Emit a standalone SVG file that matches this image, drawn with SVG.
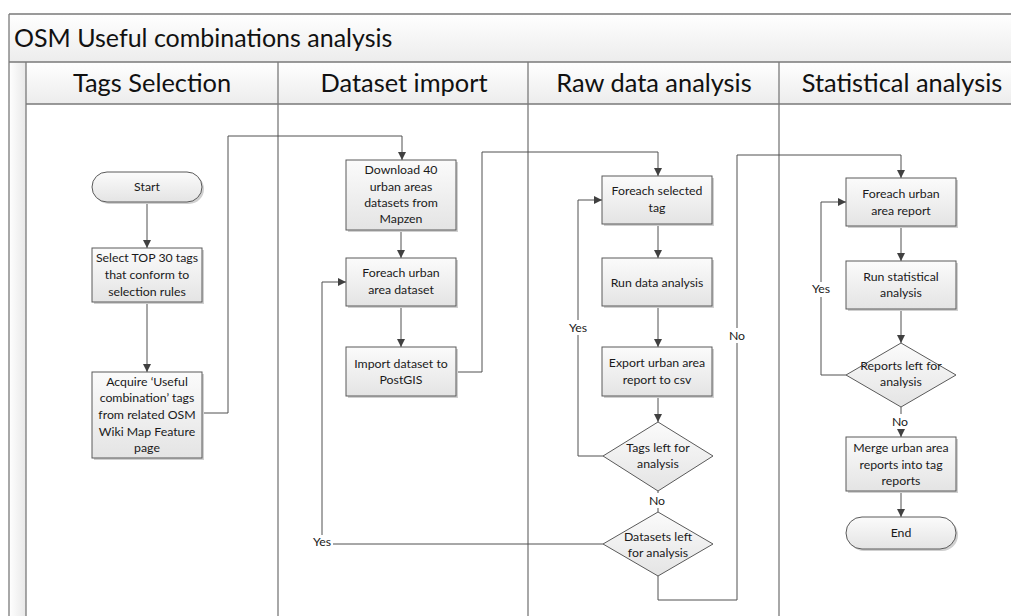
<svg xmlns="http://www.w3.org/2000/svg" width="1011" height="616" viewBox="0 0 1011 616">
<defs>
<linearGradient id="gBox" x1="0" y1="0" x2="0" y2="1">
<stop offset="0" stop-color="#fbfbfb"/>
<stop offset="1" stop-color="#e4e4e4"/>
</linearGradient>
<linearGradient id="gBar" x1="0" y1="0" x2="0" y2="1">
<stop offset="0" stop-color="#ffffff"/>
<stop offset="1" stop-color="#ececec"/>
</linearGradient>
<linearGradient id="gStrip" x1="0" y1="0" x2="1" y2="0">
<stop offset="0" stop-color="#ffffff"/>
<stop offset="1" stop-color="#e8e8e8"/>
</linearGradient>
<marker id="arr" viewBox="0 0 10 10" refX="10" refY="5" markerWidth="8" markerHeight="8" markerUnits="userSpaceOnUse" orient="auto">
<path d="M0,0 L10,5 L0,10 z" fill="#404040"/>
</marker>
</defs>
<style>
.frame{fill:none;stroke:#7a7a7a;stroke-width:1.3}
.box{fill:url(#gBox);stroke:#5a5a5a;stroke-width:1}
.shadow{fill:#d0d0d0}
.t{font-family:Lato,"Liberation Sans",sans-serif;font-size:12.3px;fill:#1a1a1a;text-anchor:middle}
.h{font-family:Lato,"Liberation Sans",sans-serif;font-size:25.4px;fill:#111;text-anchor:middle}
.title{font-family:Lato,"Liberation Sans",sans-serif;font-size:25px;fill:#111}
.c{fill:none;stroke:#505050;stroke-width:1}
.lbl{fill:#fff}
</style>
<rect width="1011" height="616" fill="#fff"/>
<g id="pool">
<rect x="9" y="14" width="1010" height="48" fill="url(#gBar)"/>
<rect x="26" y="62" width="990" height="42" fill="url(#gBar)"/>
<rect x="9" y="62" width="17" height="560" fill="url(#gStrip)"/>
<path class="frame" d="M9,14 H1015 M9,14 V620 M9,62 H1015 M26,62 V620 M26,104 H1015 M278,62 V620 M528,62 V620 M779,62 V620"/>
<text class="title" x="14" y="47">OSM Useful combinations analysis</text>
<text class="h" x="152" y="92">Tags Selection</text>
<text class="h" x="404" y="92">Dataset import</text>
<text class="h" x="654" y="92">Raw data analysis</text>
<text class="h" x="902" y="92">Statistical analysis</text>
</g>
<g id="connectors">
<path class="c" d="M147,202 V248" marker-end="url(#arr)"/>
<path class="c" d="M147,302 V372" marker-end="url(#arr)"/>
<path class="c" d="M202,413 H228 V136 H402 V160" marker-end="url(#arr)"/>
<path class="c" d="M401,230 V258" marker-end="url(#arr)"/>
<path class="c" d="M401,306 V347" marker-end="url(#arr)"/>
<path class="c" d="M456,372 H482 V152 H658 V176" marker-end="url(#arr)"/>
<path class="c" d="M658,224 V258" marker-end="url(#arr)"/>
<path class="c" d="M658,306 V347" marker-end="url(#arr)"/>
<path class="c" d="M658,396 V422" marker-end="url(#arr)"/>
<path class="c" d="M603,456 H578 V200 H602" marker-end="url(#arr)"/>
<path class="c" d="M658,491 V512"/>
<path class="c" d="M603,544 H322 V282 H346" marker-end="url(#arr)"/>
<path class="c" d="M658,576 V600 H737 V155 H901 V178" marker-end="url(#arr)"/>
<path class="c" d="M901,226 V261" marker-end="url(#arr)"/>
<path class="c" d="M901,309 V343" marker-end="url(#arr)"/>
<path class="c" d="M846,375 H821 V202 H846" marker-end="url(#arr)"/>
<path class="c" d="M901,407 V437" marker-end="url(#arr)"/>
<path class="c" d="M901,491 V517" marker-end="url(#arr)"/>
<rect class="lbl" x="568" y="320" width="20" height="15"/>
<text class="t" x="578" y="332">Yes</text>
<rect class="lbl" x="648" y="493" width="20" height="15"/>
<text class="t" x="657" y="505">No</text>
<rect class="lbl" x="311" y="535" width="22" height="14"/>
<text class="t" x="322" y="546">Yes</text>
<rect class="lbl" x="728" y="328" width="19" height="15"/>
<text class="t" x="737" y="340">No</text>
<rect class="lbl" x="810" y="282" width="22" height="15"/>
<text class="t" x="821" y="293">Yes</text>
<rect class="lbl" x="891" y="414" width="20" height="15"/>
<text class="t" x="900" y="426">No</text>
</g>
<g id="start">
<rect class="shadow" x="94" y="174" width="110" height="30" rx="15"/>
<rect class="box" x="92" y="172" width="110" height="30" rx="15"/>
<text class="t" x="147" y="191">Start</text>
</g>
<g id="select">
<rect class="shadow" x="94" y="250" width="110" height="54"/>
<rect class="box" x="92" y="248" width="110" height="54"/>
<text class="t" x="147" y="262">Select TOP 30 tags</text>
<text class="t" x="147" y="279">that conform to</text>
<text class="t" x="147" y="296">selection rules</text>
</g>
<g id="acquire">
<rect class="shadow" x="94" y="374" width="110" height="86"/>
<rect class="box" x="92" y="372" width="110" height="86"/>
<text class="t" x="147" y="386">Acquire ‘Useful</text>
<text class="t" x="147" y="402">combination’ tags</text>
<text class="t" x="147" y="419">from related OSM</text>
<text class="t" x="147" y="436">Wiki Map Feature</text>
<text class="t" x="147" y="452">page</text>
</g>
<g id="download">
<rect class="shadow" x="348" y="162" width="110" height="70"/>
<rect class="box" x="346" y="160" width="110" height="70"/>
<text class="t" x="401" y="174">Download 40</text>
<text class="t" x="401" y="191">urban areas</text>
<text class="t" x="401" y="207">datasets from</text>
<text class="t" x="401" y="223">Mapzen</text>
</g>
<g id="foreach-dataset">
<rect class="shadow" x="348" y="260" width="110" height="48"/>
<rect class="box" x="346" y="258" width="110" height="48"/>
<text class="t" x="401" y="277">Foreach urban</text>
<text class="t" x="401" y="294">area dataset</text>
</g>
<g id="import">
<rect class="shadow" x="348" y="349" width="110" height="49"/>
<rect class="box" x="346" y="347" width="110" height="49"/>
<text class="t" x="401" y="368">Import dataset to</text>
<text class="t" x="401" y="384">PostGIS</text>
</g>
<g id="foreach-tag">
<rect class="shadow" x="604" y="178" width="110" height="48"/>
<rect class="box" x="602" y="176" width="110" height="48"/>
<text class="t" x="657" y="195">Foreach selected</text>
<text class="t" x="657" y="212">tag</text>
</g>
<g id="run-data">
<rect class="shadow" x="604" y="260" width="110" height="48"/>
<rect class="box" x="602" y="258" width="110" height="48"/>
<text class="t" x="657" y="287">Run data analysis</text>
</g>
<g id="export">
<rect class="shadow" x="604" y="349" width="110" height="49"/>
<rect class="box" x="602" y="347" width="110" height="49"/>
<text class="t" x="657" y="367">Export urban area</text>
<text class="t" x="657" y="384">report to csv</text>
</g>
<g id="tags-left">
<polygon class="box" points="658,422 713,456 658,491 603,456"/>
<text class="t" x="658" y="452">Tags left for</text>
<text class="t" x="658" y="468">analysis</text>
</g>
<g id="datasets-left">
<polygon class="box" points="658,512 713,544 658,576 603,544"/>
<text class="t" x="658" y="541">Datasets left</text>
<text class="t" x="658" y="557">for analysis</text>
</g>
<g id="foreach-report">
<rect class="shadow" x="848" y="180" width="110" height="48"/>
<rect class="box" x="846" y="178" width="110" height="48"/>
<text class="t" x="901" y="198">Foreach urban</text>
<text class="t" x="901" y="215">area report</text>
</g>
<g id="run-stat">
<rect class="shadow" x="848" y="263" width="110" height="48"/>
<rect class="box" x="846" y="261" width="110" height="48"/>
<text class="t" x="901" y="281">Run statistical</text>
<text class="t" x="901" y="297">analysis</text>
</g>
<g id="reports-left">
<polygon class="box" points="901,343 956,375 901,407 846,375"/>
<text class="t" x="901" y="370">Reports left for</text>
<text class="t" x="901" y="386">analysis</text>
</g>
<g id="merge">
<rect class="shadow" x="848" y="439" width="110" height="54"/>
<rect class="box" x="846" y="437" width="110" height="54"/>
<text class="t" x="901" y="452">Merge urban area</text>
<text class="t" x="901" y="469">reports into tag</text>
<text class="t" x="901" y="485">reports</text>
</g>
<g id="end">
<rect class="shadow" x="848" y="519" width="110" height="32" rx="16"/>
<rect class="box" x="846" y="517" width="110" height="32" rx="16"/>
<text class="t" x="901" y="537">End</text>
</g>
</svg>
